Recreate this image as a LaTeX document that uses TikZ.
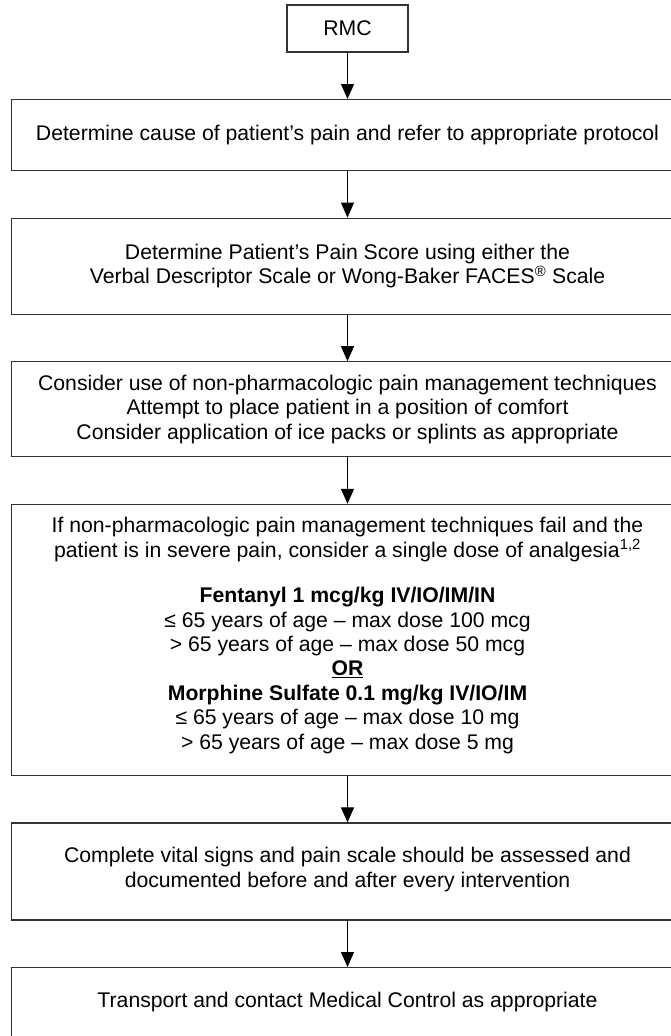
\documentclass[tikz,border=0pt]{standalone}
\usepackage{fontspec}
\setmainfont{Liberation Sans}
\usetikzlibrary{arrows.meta, positioning}
\tikzset{%
	start/.style={draw=black!80, rectangle, minimum width=121pt, minimum height=47pt, line width=1.2pt},
	stepbox/.style={draw=black!80, rectangle, minimum width=672pt, inner sep=0pt,%
		align=center, line width=1.2pt},
	sel/.style={-{Triangle[width=13pt,length=15pt]}, line width=1pt}
}

\begin{document}
\begin{tikzpicture}[x=1pt, y=1pt, node distance=46.4pt, font=\fontsize{21.2}{24.4}\selectfont]
	\useasboundingbox (0,0) rectangle (671,-1036);
	\clip (0,0) rectangle (671,-1036);
	\node[start] (rmc) at (347.5,-28.5) {RMC};
	\node[stepbox, minimum height=71pt] (cause) [below=of rmc] {Determine cause of patient’s pain and refer to appropriate protocol};
	\node[stepbox, minimum height=96pt] (score) [below=of cause] {Determine Patient’s Pain Score using either the\\
		Verbal Descriptor Scale or Wong-Baker FACES\textsuperscript{®} Scale};
	\node[stepbox, minimum height=95pt] (comfort) [below=of score] {Consider use of non-pharmacologic pain management techniques\\
		Attempt to place patient in a position of comfort\\
		Consider application of ice packs or splints as appropriate};
	\node[stepbox, minimum height=271pt, text depth=13pt] (dose) [below=of comfort] {If non-pharmacologic pain management techniques fail and the\\
		patient is in severe pain, consider a single dose of analgesia\textsuperscript{1,2}\\[21pt]
		\textbf{Fentanyl 1 mcg/kg IV/IO/IM/IN}\\
		≤ 65 years of age – max dose 100 mcg\\
		> 65 years of age – max dose 50 mcg\\
		\underline{\textbf{OR}}\\
		\textbf{Morphine Sulfate 0.1 mg/kg IV/IO/IM}\\
		≤ 65 years of age – max dose 10 mg\\
		> 65 years of age – max dose 5 mg};
	\node[stepbox, minimum height=97pt, text depth=8pt] (vitals) [below=of dose] {Complete vital signs and pain scale should be assessed and\\
		documented before and after every intervention};
	\node[stepbox, minimum height=76pt, text depth=12pt] (transport) [below=of vitals] {Transport and contact Medical Control as appropriate};
	\draw [sel] (rmc) to (cause);
	\draw [sel] (cause) to (score);
	\draw [sel] (score) to (comfort);
	\draw [sel] (comfort) to (dose);
	\draw [sel] (dose) to (vitals);
	\draw [sel] (vitals) to (transport);
\end{tikzpicture}
\end{document}
